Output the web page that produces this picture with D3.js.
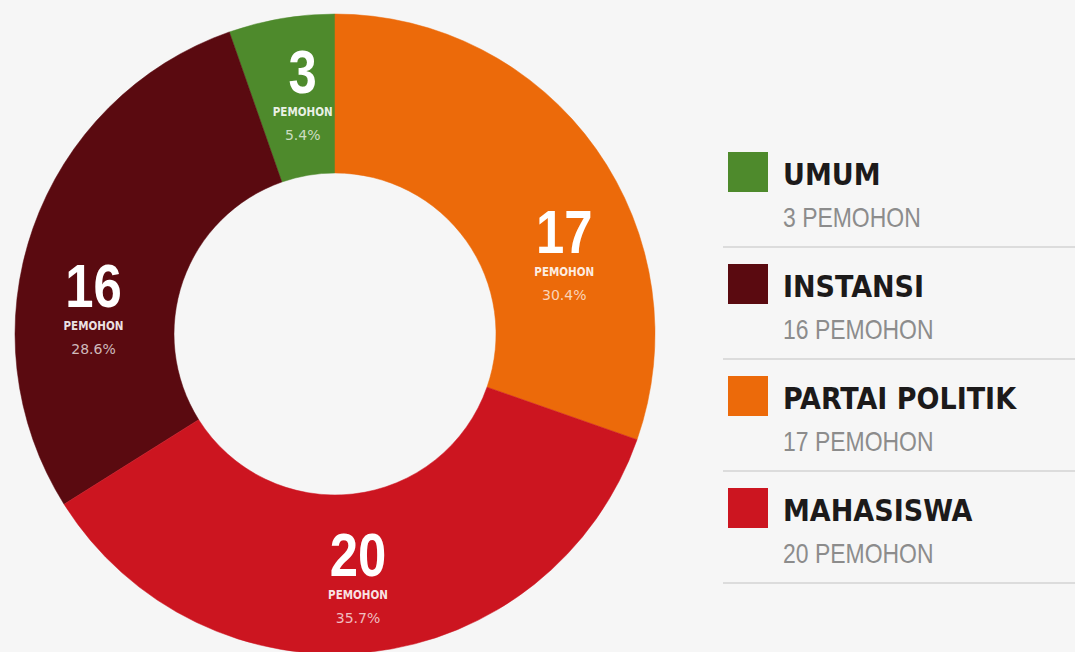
<!DOCTYPE html>
<html>
<head>
<meta charset="utf-8">
<script src="https://cdn.jsdelivr.net/npm/d3@7"></script>
<style>
  html, body { margin: 0; padding: 0; background: #f6f6f6; }
  svg { display: block; }
</style>
</head>
<body>
<div id="container"></div>
<script>
// data, in legend order
const categories = ['UMUM', 'INSTANSI', 'PARTAI POLITIK', 'MAHASISWA'];
const values = [3, 16, 17, 20];
const unitLabel = 'PEMOHON';
// clockwise order of the slices, starting at 12 o'clock
const pieOrder = ['PARTAI POLITIK', 'MAHASISWA', 'INSTANSI', 'UMUM'];

const colors = {
  'UMUM': '#4e8a2c',
  'INSTANSI': '#5a0a10',
  'PARTAI POLITIK': '#ec6a0a',
  'MAHASISWA': '#cc1520'
};

// small angle nudges (degrees) so labels sit where the original has them
const labelNudge = { 'UMUM': 2, 'INSTANSI': -13, 'PARTAI POLITIK': 16, 'MAHASISWA': 1 };

const width = 1075, height = 652;
const cx = 335, cy = 334;
const outerR = 320, innerR = 161, labelR = 243;
// no narrow font installed, so squeeze the text horizontally
const narrow = 0.82;

const rows = categories.map((c, i) => ({ name: c, value: values[i] }));
const total = d3.sum(values);
const pct = d3.format('.1f');

const svg = d3.select('#container')
  .append('svg')
  .attr('width', width)
  .attr('height', height);

svg.append('rect')
  .attr('width', width)
  .attr('height', height)
  .attr('fill', '#f6f6f6');

const pie = d3.pie()
  .value(d => d.value)
  .sort((a, b) => pieOrder.indexOf(a.name) - pieOrder.indexOf(b.name));

const arc = d3.arc()
  .innerRadius(innerR)
  .outerRadius(outerR);

const g = svg.append('g')
  .attr('transform', `translate(${cx}, ${cy})`);

const arcs = pie(rows);

g.selectAll('.slice')
  .data(arcs)
  .enter()
  .append('path')
  .attr('class', 'slice')
  .attr('d', arc)
  .attr('fill', d => colors[d.data.name])
  .attr('stroke', d => colors[d.data.name])
  .attr('stroke-width', 0.5);

// slice labels
const labels = g.selectAll('.slice_label')
  .data(arcs)
  .enter()
  .append('g')
  .attr('class', 'slice_label')
  .attr('transform', d => {
    const a = (d.startAngle + d.endAngle) / 2 + labelNudge[d.data.name] * Math.PI / 180;
    return `translate(${Math.sin(a) * labelR}, ${-Math.cos(a) * labelR})`;
  });

labels.append('text')
  .attr('text-anchor', 'middle')
  .attr('transform', `scale(${narrow}, 1)`)
  .style('font-family', '"Liberation Sans", sans-serif')
  .style('font-weight', 'bold')
  .style('font-size', '62px')
  .attr('fill', '#ffffff')
  .text(d => d.data.value);

labels.append('text')
  .attr('text-anchor', 'middle')
  .attr('y', 23)
  .style('font-family', '"DejaVu Sans Condensed", "DejaVu Sans", sans-serif')
  .style('font-stretch', 'condensed')
  .style('font-weight', 'bold')
  .style('font-size', '11.5px')
  .attr('fill', '#ffffff')
  .attr('fill-opacity', 0.9)
  .text(unitLabel);

labels.append('text')
  .attr('text-anchor', 'middle')
  .attr('y', 47)
  .style('font-family', '"DejaVu Sans", sans-serif')
  .style('font-size', '14px')
  .attr('fill', '#ffffff')
  .attr('fill-opacity', 0.72)
  .text(d => pct(d.data.value / total * 100) + '%');

// legend
const legendX = 728, legendTop = 152, legendStep = 112;

const legendY = d3.scaleLinear()
  .domain([0, 1])
  .range([legendTop, legendTop + legendStep]);

const legend = svg.selectAll('.legend_item')
  .data(rows)
  .enter()
  .append('g')
  .attr('class', 'legend_item')
  .attr('transform', (d, i) => `translate(${legendX}, ${legendY(i)})`);

legend.append('rect')
  .attr('width', 40)
  .attr('height', 40)
  .attr('fill', d => colors[d.name]);

legend.append('text')
  .attr('x', 55)
  .attr('y', 33)
  .style('font-family', '"DejaVu Sans Condensed", "DejaVu Sans", sans-serif')
  .style('font-stretch', 'condensed')
  .style('font-weight', 'bold')
  .style('font-size', '30px')
  .attr('fill', '#1c1a1a')
  .text(d => d.name);

legend.append('text')
  .attr('transform', `translate(55, 75) scale(${narrow}, 1)`)
  .style('font-family', '"Liberation Sans", sans-serif')
  .style('font-size', '28px')
  .attr('fill', '#8c8c8c')
  .text(d => `${d.value} ${unitLabel}`);

legend.append('line')
  .attr('x1', -5)
  .attr('x2', width - legendX)
  .attr('y1', 95)
  .attr('y2', 95)
  .style('stroke', '#dcdcdc')
  .style('stroke-width', 2);
</script>
</body>
</html>
